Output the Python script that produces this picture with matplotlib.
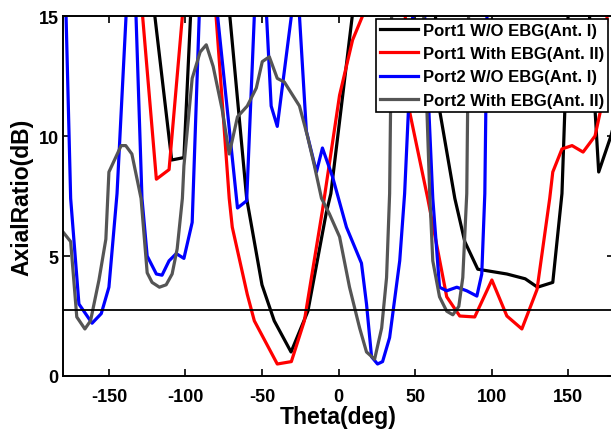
import matplotlib.pyplot as plt

plt.rcParams['font.family'] = ['Liberation Sans', 'DejaVu Sans']
plt.rcParams['font.weight'] = 'bold'
plt.rcParams['axes.unicode_minus'] = False

# Port1 W/O EBG (Ant. I)
theta_p1 = [-180, -125, -120, -109, -101, -93, -75, -71, -60, -50, -42, -31, -20, -8, -5, 9,
            15, 60, 66, 76, 82.5, 91, 110, 122, 130, 140, 146, 150, 153, 160, 164, 170, 178, 180]
ar_p1 = [20, 20, 15, 9.0, 9.1, 20, 20, 15, 7.4, 3.8, 2.3, 1.0, 2.7, 6.8, 7.6, 15,
         20, 20, 11.1, 7.4, 5.6, 4.45, 4.25, 4.05, 3.7, 3.9, 7.6, 15, 20, 20, 15, 8.5, 10, 10.5]

# Port1 With EBG (Ant. II)
theta_p1e = [-180, -132, -128, -119, -110.7, -102, -98, -84, -80, -71.4, -69.4, -59.6, -55, -40,
             -30.8, -22.3, -10.5, 0.7, 9.2, 15.7, 20, 40, 46.5, 58.3, 70.7, 79.2, 89, 100.2, 110,
             119.8, 129.7, 138, 140, 146, 152.6, 159.8, 167.6, 171, 175.5, 180]
ar_p1e = [20, 20, 15, 8.2, 8.6, 15, 20, 20, 15, 7.4, 6.2, 3.4, 2.3, 0.5,
          0.6, 2.3, 6.9, 11.7, 14, 15, 20, 20, 11, 7.4, 3.3, 2.5, 2.46, 4.0, 2.5,
          1.96, 3.6, 7.4, 8.5, 9.46, 9.6, 9.33, 10, 11, 15, 20]

# Port2 W/O EBG (Ant. I)
theta_p2 = [-180, -178, -175, -169.6, -161, -155, -150, -144.7, -138.8, -136, -132.3, -128.4, -125,
            -119, -115.3, -110.7, -106, -101, -95.6, -91, -88, -82, -79, -66, -60, -55, -52, -49,
            -47, -44, -40, -30.8, -28, -25.5, -21, -14.4, -10.5, -3.9, 5.2, 15, 18.3, 21.6, 25.5,
            28.8, 33.4, 40, 43.2, 48.5, 52, 53, 56.3, 61.6, 66, 70.7, 77.3, 83.8, 90.4, 93.6, 95.6,
            97, 100, 180]
ar_p2 = [16, 15, 7.4, 3.0, 2.2, 2.6, 3.7, 7.6, 15, 20, 15, 7.4, 5.0,
         4.25, 4.2, 4.8, 5.1, 4.9, 6.4, 15, 20, 20, 15, 7.0, 7.3, 15, 20, 20,
         15, 11.25, 10.4, 15, 20, 15, 10.2, 8.5, 9.5, 8.3, 6.2, 4.7, 3.0, 0.8, 0.5,
         0.6, 1.6, 4.8, 7.6, 15, 20, 20, 15, 7.4, 3.7, 3.55, 3.7, 3.55, 3.33, 4.25, 7.6,
         15, 20, 20]

# Port2 With EBG (Ant. II)
theta_p2e = [-180, -175, -171, -165.7, -162, -156.5, -152, -150, -142, -139, -135, -129, -125,
             -121.8, -117, -112.6, -108.7, -105.4, -102, -101, -95.6, -90.4, -86.4, -81.9, -76,
             -71.4, -66, -59.6, -53.7, -49.8, -45.2, -40, -35.4, -25.5, -20.3, -15.7, -11.1, -5.9,
             0.7, 7.2, 13.8, 18.3, 23.6, 28.2, 31.4, 33.4, 34.7, 38, 52, 55.7, 59.6, 61.6, 66,
             70.7, 74.7, 78.6, 81.2, 83.8, 85, 88, 180]
ar_p2e = [6.0, 5.6, 2.46, 1.96, 2.3, 4.0, 5.7, 8.5, 9.6, 9.6, 9.25, 7.4, 4.3,
          3.9, 3.7, 3.8, 4.25, 5.3, 7.4, 8.75, 12.4, 13.5, 13.8, 12.9, 11.1,
          9.25, 10.8, 11.25, 12.0, 13.1, 13.3, 12.4, 12.25, 11.25, 10, 8.75, 7.4, 6.75,
          5.8, 3.7, 2.0, 1.0, 0.7, 2.0, 4.1, 7.6, 15, 20, 20, 15, 7.6, 4.8, 3.3,
          2.7, 2.55, 2.9, 4.1, 7.6, 15, 20, 20]

ar_limit = 2.75

fig = plt.figure(figsize=(6.11, 4.31), dpi=100)
ax = fig.add_axes([63 / 611, 54 / 431, 551 / 611, 360 / 431])

lw = 2.3
ax.plot(theta_p1, ar_p1, color='black', lw=lw, label='Port1 W/O EBG(Ant. I)')
ax.plot(theta_p1e, ar_p1e, color='#ff0000', lw=lw, label='Port1 With EBG(Ant. II)')
ax.plot(theta_p2, ar_p2, color='#0000ff', lw=lw, label='Port2 W/O EBG(Ant. I)')
ax.plot(theta_p2e, ar_p2e, color='#555555', lw=lw, label='Port2 With EBG(Ant. II)')
ax.axhline(ar_limit, color='black', lw=1.3)

ax.set_xlim(-180, 180)
ax.set_ylim(0, 15)
ax.set_xticks([-150, -100, -50, 0, 50, 100, 150])
ax.set_yticks([0, 5, 10, 15])
ax.tick_params(direction='in', top=True, right=True, length=5, width=1.2, labelsize=13)
ax.tick_params(axis='x', pad=9)
ax.tick_params(axis='y', pad=3)
for s in ax.spines.values():
    s.set_linewidth(1.4)

ax.set_xlabel('Theta(deg)', fontsize=16.5, fontweight='bold', labelpad=0)
ax.set_ylabel('AxialRatio(dB)', fontsize=16.5, fontweight='bold', labelpad=4)

leg = ax.legend(loc='upper right', bbox_to_anchor=(0.99, 0.993), borderaxespad=0,
                fancybox=False, framealpha=1, edgecolor='black', fontsize=12,
                handlelength=2.3, labelspacing=0.5, handletextpad=0.3, borderpad=0.25)
leg.get_frame().set_linewidth(1.2)

fig.savefig('out.png', dpi=100)
